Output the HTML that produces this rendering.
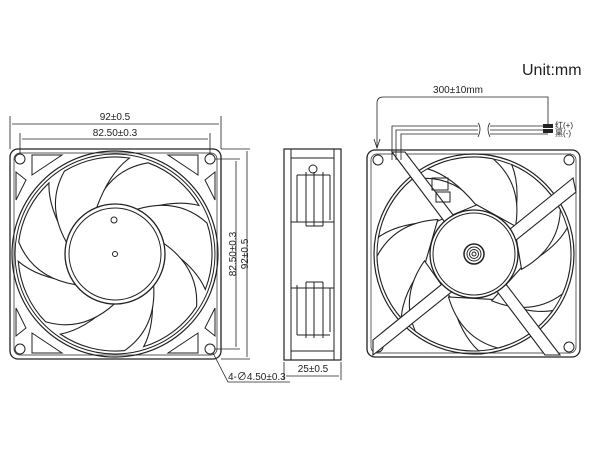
<!DOCTYPE html>
<html><head><meta charset="utf-8"><style>
html,body{margin:0;padding:0;background:#fff;width:600px;height:450px;overflow:hidden}
svg{display:block}
text{font-family:"Liberation Sans","Noto Sans CJK SC",sans-serif;fill:#222}
</style></head><body>
<svg width="600" height="450" viewBox="0 0 600 450" xmlns="http://www.w3.org/2000/svg">
<defs>
<path id="blade" d="M -21.1 -45.3 Q -5 -85 33.2 -91.2 A 97 97 0 0 1 84 -48.5 Q 60 -55 25 -43.3 Z" fill="#fff" stroke="#222" stroke-width="1.1"/>
</defs>
<g fill="none" stroke="#222" stroke-width="1">
<!-- LEFT VIEW -->
<rect x="10" y="149" width="211" height="210" rx="8" stroke-width="1.3"/>
<rect x="14" y="153" width="203" height="202" rx="6" stroke-width="0.7"/>
<circle cx="20" cy="159" r="5"/><circle cx="210" cy="159" r="5"/>
<circle cx="20" cy="349" r="5"/><circle cx="210" cy="349" r="5"/>
<path d="M32 155 L62 155 L32 175 Z M198 155 L168 155 L198 175 Z M32 353 L62 353 L32 333 Z M198 353 L168 353 L198 333 Z M16 172 L16 200 L26 180 Z M215 172 L215 200 L205 180 Z M16 336 L16 308 L26 328 Z M215 336 L215 308 L205 328 Z"/>
<circle cx="115" cy="254" r="103" stroke-width="1.2"/>
<circle cx="115" cy="254" r="100"/>
<g transform="translate(115,254)">
<use href="#blade" transform="rotate(0)"/><use href="#blade" transform="rotate(51.4)"/>
<use href="#blade" transform="rotate(102.8)"/><use href="#blade" transform="rotate(154.3)"/>
<use href="#blade" transform="rotate(205.7)"/><use href="#blade" transform="rotate(257.1)"/>
<use href="#blade" transform="rotate(308.6)"/>
</g>
<circle cx="115" cy="254" r="50" fill="#fff" stroke-width="1.3"/>
<circle cx="115" cy="254" r="46"/>
<circle cx="115" cy="254" r="2.5"/>
<circle cx="114" cy="220" r="3"/>
<!-- left dims -->
<path d="M10 149 V116 M221 149 V116 M20 154 V133 M210 154 V133 M12 124 H219 M22 139 H208" stroke-width="0.8"/>
<path d="M221 149 H250 M215 159 H240 M215 349 H240 M221 359 H250 M236 161 V347 M247 151 V357" stroke-width="0.8"/>
<path d="M213 353 L228 382 H290" stroke-width="0.8"/>
<!-- SIDE VIEW -->
<rect x="284" y="149" width="57" height="211" stroke-width="1.2"/>
<path d="M291 149 V360 M334 149 V360 M291 158 H334 M291 351 H334"/>
<path d="M297 175 V222 M306 172 V226 M314 172 V226 M323 172 V226 M330 175 V220 M291 222 H334 M297 175 L330 175 M306 226 H323"/>
<path d="M297 285 V335 M306 282 V338 M314 282 V338 M323 282 V338 M330 288 V332 M291 288 H334 M306 282 H323 M297 335 H330"/>
<circle cx="313" cy="169" r="4"/>
<path d="M284 362 V380 M341 362 V380 M286 376 H339" stroke-width="0.8"/>
<!-- RIGHT VIEW -->
<rect x="367" y="150" width="213" height="207" rx="8" stroke-width="1.3"/>
<rect x="371" y="154" width="205" height="199" rx="6" stroke-width="0.7"/>
<circle cx="378" cy="160" r="5"/><circle cx="569" cy="160" r="5"/>
<circle cx="378" cy="347" r="5"/><circle cx="569" cy="347" r="5"/>
<circle cx="474" cy="254" r="100" stroke-width="1.2"/>
<circle cx="474" cy="254" r="97"/>
<g transform="translate(474,254) scale(-1,1)">
<use href="#blade" transform="rotate(20)"/><use href="#blade" transform="rotate(71.4)"/>
<use href="#blade" transform="rotate(122.8)"/><use href="#blade" transform="rotate(174.3)"/>
<use href="#blade" transform="rotate(225.7)"/><use href="#blade" transform="rotate(277.1)"/>
<use href="#blade" transform="rotate(328.6)"/>
</g>
<path d="M392 152 L545 355 L560 355 L405 152 Z M573 178 L373 340 L373 355 L576 192 Z" fill="#fff" stroke-width="1.1"/>
<circle cx="474" cy="254" r="44" fill="#fff" stroke-width="1.3"/>
<circle cx="474" cy="254" r="41"/>
<circle cx="474" cy="254" r="10" stroke-width="1.5"/>
<circle cx="474" cy="254" r="7"/><circle cx="474" cy="254" r="4.5"/><circle cx="474" cy="254" r="2"/>
<rect x="432" y="178" width="16" height="12"/>
<rect x="436" y="192" width="14" height="10"/>
<!-- wires -->
<path d="M377 148 V103 Q377 97 383 97 H548 V125" stroke-width="0.8"/>
<path d="M374 139 L377 148 L380 139" stroke-width="0.8"/>
<path d="M392 160 V126 H478 M490 126 H548 M396 160 V130 H478 M490 130 H548 M401 160 V134 H478 M490 134 H548" stroke-width="0.8"/>
<path d="M478 123 Q482 128 478 137 M490 123 Q486 128 490 137" stroke-width="0.8"/>
</g>
<rect x="543" y="124" width="10" height="4" fill="#222"/>
<rect x="543" y="129" width="10" height="4" fill="#222"/>
<text x="115" y="120" font-size="10" text-anchor="middle">92±0.5</text>
<text x="115" y="136" font-size="10" text-anchor="middle">82.50±0.3</text>
<text transform="translate(236,254) rotate(-90)" x="0" y="0" font-size="10" text-anchor="middle">82.50±0.3</text>
<text transform="translate(248,254) rotate(-90)" x="0" y="0" font-size="10" text-anchor="middle">92±0.5</text>
<text x="228" y="380" font-size="10">4-∅4.50±0.3</text>
<text x="313" y="372" font-size="10" text-anchor="middle">25±0.5</text>
<text x="458" y="93" font-size="10" text-anchor="middle">300±10mm</text>
<text x="555" y="128" font-size="8">红(+)</text>
<text x="555" y="136" font-size="8">黑(-)</text>
<text x="522" y="75" font-size="16">Unit:mm</text>
</svg>
</body></html>
